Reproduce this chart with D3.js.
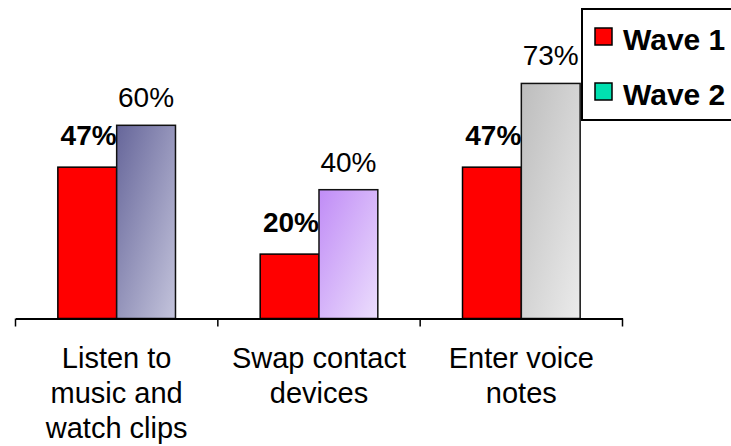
<!DOCTYPE html>
<html>
<head>
<meta charset="utf-8">
<script src="https://cdn.jsdelivr.net/npm/d3@7"></script>
<style>
  html, body { margin: 0; padding: 0; background: #fff; }
  svg { display: block; font-family: Arial, "Liberation Sans", sans-serif; }
</style>
</head>
<body>
<svg id="chart" width="731" height="446"></svg>
<script>
// Activities and the share of respondents doing each, per survey wave
const categories = [
  ["Listen to", "music and", "watch clips"],
  ["Swap contact", "devices"],
  ["Enter voice", "notes"]
];
const wave1 = [47, 20, 47];
const wave2 = [60, 40, 73];
const seriesNames = ["Wave 1", "Wave 2"];

// Wave 2 bars each carry their own diagonal gradient
const wave2Gradients = [
  ["#66669a", "#c4c4dc"],
  ["#c08cf6", "#ecdefd"],
  ["#bdbdbd", "#ebebeb"]
];
const legendColors = ["#ff0000", "#00e0b0"];

const svg = d3.select("#chart");

const x = d3.scaleBand()
  .domain(d3.range(categories.length))
  .range([15.5, 622.5])
  .padding(0);

const xInner = d3.scaleBand()
  .domain([0, 1])
  .range([0, x.bandwidth()])
  .paddingInner(0)
  .paddingOuter(0.72);

const y = d3.scaleLinear().domain([0, 100]).range([318.5, -3.5]);

// gradients
const defs = svg.append("defs");
wave2Gradients.forEach((g, i) => {
  const lg = defs.append("linearGradient")
    .attr("id", "w2g" + i)
    .attr("x1", 0).attr("y1", 0).attr("x2", 1).attr("y2", 1);
  lg.append("stop").attr("offset", "0%").attr("stop-color", g[0]);
  lg.append("stop").attr("offset", "100%").attr("stop-color", g[1]);
});

const groups = svg.append("g")
  .selectAll("g")
  .data(categories.map((c, i) => ({ i, v1: wave1[i], v2: wave2[i] })))
  .join("g")
  .attr("transform", d => `translate(${x(d.i)},0)`);

// Wave 1 bars
groups.append("rect")
  .attr("x", xInner(0))
  .attr("width", xInner.bandwidth())
  .attr("y", d => y(d.v1))
  .attr("height", d => y(0) - y(d.v1))
  .attr("fill", "#ff0000")
  .attr("stroke", "#000")
  .attr("stroke-width", 1.5);

// Wave 2 bars
groups.append("rect")
  .attr("x", xInner(1))
  .attr("width", xInner.bandwidth())
  .attr("y", d => y(d.v2))
  .attr("height", d => y(0) - y(d.v2))
  .attr("fill", d => `url(#w2g${d.i})`)
  .attr("stroke", "#111")
  .attr("stroke-width", 1.5);

// Value labels
groups.append("text")
  .attr("x", xInner(0) + xInner.bandwidth())
  .attr("y", d => y(d.v1) - 22)
  .attr("text-anchor", "end")
  .attr("font-size", 28)
  .attr("font-weight", "bold")
  .attr("fill", "#000")
  .text(d => d.v1 + "%");

groups.append("text")
  .attr("x", xInner(1) + xInner.bandwidth() / 2)
  .attr("y", d => y(d.v2) - 18)
  .attr("text-anchor", "middle")
  .attr("font-size", 28)
  .attr("fill", "#000")
  .text(d => d.v2 + "%");

// Category axis
const axis = d3.axisBottom(x)
  .tickValues([])
  .tickSizeOuter(0);
const axisG = svg.append("g").attr("transform", `translate(0,${y(0)})`).call(axis);
axisG.select(".domain").attr("stroke", "#000").attr("stroke-width", 2);

// tick marks on category boundaries
const bounds = d3.range(categories.length + 1).map(i => i < categories.length ? x(i) : x.range()[1]);
axisG.selectAll("line.sep")
  .data(bounds)
  .join("line")
  .attr("class", "sep")
  .attr("x1", d => d).attr("x2", d => d)
  .attr("y1", 0).attr("y2", 8)
  .attr("stroke", "#000")
  .attr("stroke-width", 1.5);

// category labels
const catText = svg.append("g")
  .selectAll("text")
  .data(categories)
  .join("text")
  .attr("x", (d, i) => x(i) + x.bandwidth() / 2)
  .attr("y", 368)
  .attr("text-anchor", "middle")
  .attr("font-size", 29)
  .attr("fill", "#000");
catText.selectAll("tspan")
  .data(d => d)
  .join("tspan")
  .attr("x", function () { return this.parentNode.getAttribute("x"); })
  .attr("dy", (d, j) => j === 0 ? 0 : 35)
  .text(d => d);

// Legend
const legend = svg.append("g");
legend.append("rect")
  .attr("x", 582).attr("y", 9)
  .attr("width", 200).attr("height", 111)
  .attr("fill", "#fff")
  .attr("stroke", "#000")
  .attr("stroke-width", 2);
const li = legend.selectAll("g.item")
  .data(seriesNames)
  .join("g")
  .attr("class", "item")
  .attr("transform", (d, i) => `translate(595,${28 + i * 55})`);
li.append("rect")
  .attr("width", 17).attr("height", 17)
  .attr("fill", (d, i) => legendColors[i])
  .attr("stroke", "#000")
  .attr("stroke-width", 1.5);
li.append("text")
  .attr("x", 28).attr("y", 22)
  .attr("font-size", 30)
  .attr("font-weight", "bold")
  .attr("fill", "#000")
  .text(d => d);
</script>
</body>
</html>
